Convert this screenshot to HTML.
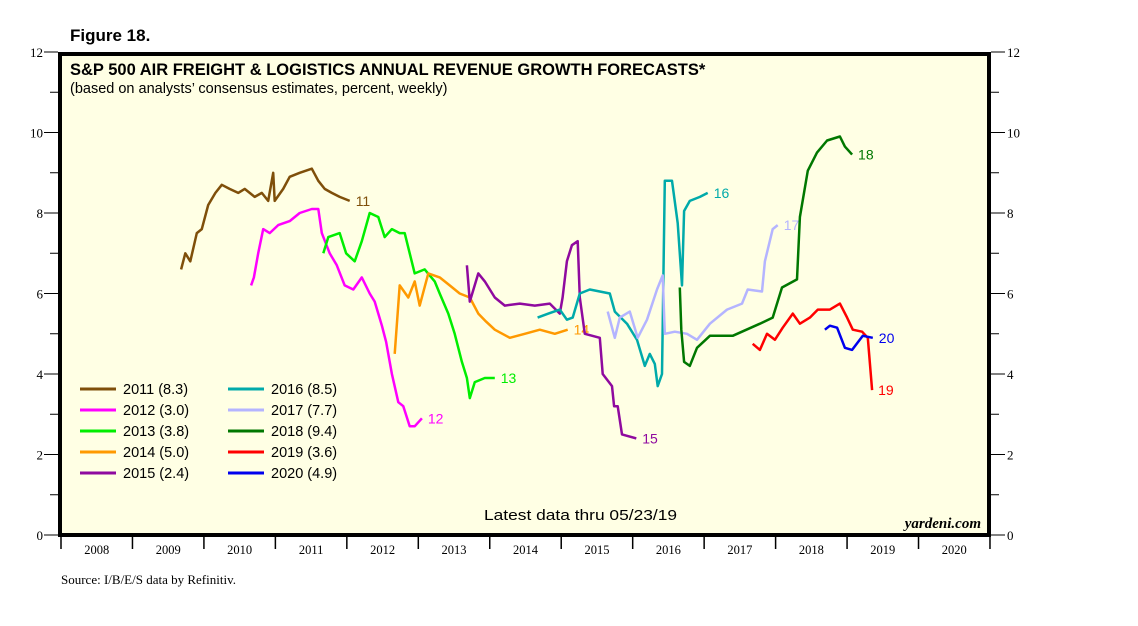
<!DOCTYPE html>
<html><head><meta charset="utf-8"><style>
body{margin:0;background:#fff;}
svg text{font-family:"Liberation Sans",Arial,sans-serif;}
</style></head><body>
<svg id="chart" width="1138" height="621" xmlns="http://www.w3.org/2000/svg">
<rect width="1138" height="621" fill="#fff"/>
<text x="70" y="41" font-size="17" font-weight="bold">Figure 18.</text>
<rect x="60" y="54" width="929" height="481" fill="#ffffe4" stroke="#000" stroke-width="4"/>
<text x="70" y="75" font-size="16.5" font-weight="bold">S&amp;P 500 AIR FREIGHT &amp; LOGISTICS ANNUAL REVENUE GROWTH FORECASTS*</text>
<text x="70" y="93" font-size="14.5">(based on analysts’ consensus estimates, percent, weekly)</text>
<g id="axes"></g>
<g id="series"></g>
<g id="legend"></g>
<text x="484" y="520" font-size="15" textLength="193" lengthAdjust="spacingAndGlyphs">Latest data thru 05/23/19</text>
<text x="981" y="528" font-size="15" font-style="italic" font-weight="bold" text-anchor="end" style="font-family:'Liberation Serif',serif">yardeni.com</text>
<text x="61" y="584" font-size="13" style="font-family:'Liberation Serif',serif">Source: I/B/E/S data by Refinitiv.</text>
</svg>
<script>
const yTicks=[0,2,4,6,8,10,12];
const years=["2008","2009","2010","2011","2012","2013","2014","2015","2016","2017","2018","2019","2020"];
const t11=[1.68,1.74,1.81,1.90,1.97,2.06,2.16,2.25,2.36,2.48,2.57,2.71,2.81,2.90,2.97,2.99,3.11,3.20,3.34,3.51,3.60,3.69,3.79,3.90,4.04];
const v11=[6.6,7.0,6.8,7.5,7.6,8.2,8.5,8.7,8.6,8.5,8.6,8.4,8.5,8.3,9.0,8.3,8.6,8.9,9.0,9.1,8.8,8.6,8.5,8.4,8.3];
const t12=[2.66,2.70,2.76,2.83,2.92,3.04,3.20,3.34,3.51,3.60,3.65,3.76,3.86,3.97,4.09,4.21,4.32,4.39,4.49,4.55,4.63,4.72,4.79,4.88,4.95,5.05];
const v12=[6.2,6.4,7.0,7.6,7.5,7.7,7.8,8.0,8.1,8.1,7.5,7.0,6.7,6.2,6.1,6.4,6.0,5.8,5.2,4.8,4.0,3.3,3.2,2.7,2.7,2.9];
const t13=[3.67,3.74,3.90,3.99,4.11,4.21,4.32,4.44,4.53,4.63,4.74,4.81,4.88,4.95,5.09,5.23,5.30,5.42,5.51,5.61,5.68,5.72,5.79,5.93,6.07];
const v13=[7.0,7.4,7.5,7.0,6.8,7.3,8.0,7.9,7.4,7.6,7.5,7.5,7.0,6.5,6.6,6.3,6.0,5.5,5.0,4.3,3.9,3.4,3.8,3.9,3.9];
const t14=[4.67,4.74,4.86,4.95,5.02,5.14,5.30,5.44,5.58,5.72,5.84,5.95,6.07,6.28,6.49,6.70,6.91,7.09];
const v14=[4.5,6.2,5.9,6.3,5.7,6.5,6.4,6.2,6.0,5.9,5.5,5.3,5.1,4.9,5.0,5.1,5.0,5.1];
const t15=[5.68,5.72,5.84,5.93,6.07,6.21,6.42,6.63,6.84,6.98,7.02,7.08,7.15,7.23,7.26,7.33,7.54,7.58,7.71,7.74,7.79,7.85,8.05];
const v15=[6.7,5.8,6.5,6.3,5.9,5.7,5.75,5.7,5.75,5.5,5.9,6.8,7.2,7.3,5.9,5.0,4.9,4.0,3.7,3.2,3.2,2.5,2.4];
const t16=[6.67,6.82,6.98,7.08,7.16,7.26,7.40,7.68,7.75,7.92,8.06,8.17,8.24,8.31,8.35,8.41,8.45,8.55,8.63,8.69,8.72,8.80,8.94,9.05];
const v16=[5.4,5.5,5.6,5.35,5.4,6.0,6.1,6.0,5.55,5.25,4.85,4.2,4.5,4.25,3.7,4.0,8.8,8.8,7.75,6.2,8.05,8.3,8.4,8.5];
const t17=[7.65,7.75,7.82,7.96,8.07,8.20,8.34,8.42,8.45,8.59,8.76,8.90,9.08,9.32,9.53,9.61,9.81,9.85,9.96,10.03];
const v17=[5.55,4.9,5.4,5.55,4.9,5.35,6.1,6.45,5.0,5.05,5.0,4.85,5.25,5.6,5.75,6.1,6.05,6.8,7.6,7.7];
const t18=[8.66,8.68,8.72,8.80,8.90,9.08,9.40,9.78,9.96,10.09,10.30,10.34,10.45,10.58,10.72,10.90,10.97,11.07];
const v18=[6.15,5.1,4.3,4.2,4.65,4.95,4.95,5.25,5.4,6.15,6.35,7.9,9.05,9.5,9.8,9.9,9.65,9.45];
const t19=[9.68,9.78,9.88,9.99,10.10,10.24,10.34,10.48,10.59,10.76,10.90,11.00,11.08,11.21,11.29,11.35];
const v19=[4.75,4.6,5.0,4.85,5.15,5.5,5.25,5.4,5.6,5.6,5.75,5.4,5.1,5.05,4.9,3.6];
const t20=[10.69,10.76,10.86,10.97,11.07,11.22,11.36];
const v20=[5.1,5.2,5.15,4.65,4.6,4.95,4.9];
const seriesNames=["11","12","13","14","15","16","17","18","19","20"];
const seriesColors=["#7f4f0a","#ff00ff","#00ee00","#ff9900","#8f0a9f","#00aaaa","#b4b4ff","#007700","#ff0000","#0000ee"];
const legendLabels=["2011 (8.3)","2012 (3.0)","2013 (3.8)","2014 (5.0)","2015 (2.4)","2016 (8.5)","2017 (7.7)","2018 (9.4)","2019 (3.6)","2020 (4.9)"];
const T=[t11,t12,t13,t14,t15,t16,t17,t18,t19,t20], V=[v11,v12,v13,v14,v15,v16,v17,v18,v19,v20];
const NS="http://www.w3.org/2000/svg";
const X0=61,YW=71.46,Y0=535,YU=40.25;
const xs=t=>X0+t*YW, ys=v=>Y0-v*YU;
function mk(tag,attrs,parent,txt){const e=document.createElementNS(NS,tag);for(const k in attrs)e.setAttribute(k,attrs[k]);if(txt!==undefined)e.textContent=txt;parent.appendChild(e);return e;}
const ax=document.getElementById('axes');
for(let v=0;v<=12;v++){
  const y=ys(v), major=v%2===0;
  const l=mk('line',{x1:major?44:50,x2:58,y1:y,y2:y,stroke:'#000','stroke-width':1},ax);
  
  
  const r=mk('line',{x1:991,x2:major?1005:999,y1:y,y2:y,stroke:'#000','stroke-width':1},ax);
  
  
}
yTicks.forEach(v=>{
  const a=mk('text',{x:43,y:ys(v)+5,'font-size':13,'text-anchor':'end',style:"font-family:'Liberation Serif',serif"},ax,String(v));
  
  
  const b=mk('text',{x:1007,y:ys(v)+5,'font-size':13,style:"font-family:'Liberation Serif',serif"},ax,String(v));
  
  
});
for(let i=0;i<=years.length;i++){
  const t=mk('line',{x1:xs(i),x2:xs(i),y1:537,y2:549,stroke:'#000','stroke-width':1.5},ax);
  
  
}
years.forEach((yr,i)=>{
  const t=mk('text',{x:xs(i+0.5),y:554,'font-size':12.5,'text-anchor':'middle',style:"font-family:'Liberation Serif',serif"},ax,yr);
  
  
});
const sg=document.getElementById('series');
T.forEach((ts,i)=>{
  const d=ts.map((t,j)=>(j?'L':'M')+xs(t).toFixed(1)+','+ys(V[i][j]).toFixed(1)).join('');
  const p=mk('path',{d:d,fill:'none',stroke:seriesColors[i],'stroke-width':2.5,'stroke-linejoin':'round'},sg);
  
  
  const lt=ts[ts.length-1], lv=V[i][V[i].length-1];
  const lb=mk('text',{x:xs(lt)+6,y:ys(lv)+5,'font-size':14,fill:seriesColors[i]},sg,seriesNames[i]);
  
  
});
const lg=document.getElementById('legend');
legendLabels.forEach((s,i)=>{
  const col=Math.floor(i/5), row=i%5;
  const x=80+col*148, y=389+row*21;
  const l=mk('line',{x1:x,x2:x+36,y1:y,y2:y,stroke:seriesColors[i],'stroke-width':3},lg);
  
  
  const t=mk('text',{x:x+43,y:y+5,'font-size':14.5},lg,s);
  
  
});
</script>
</body></html>
